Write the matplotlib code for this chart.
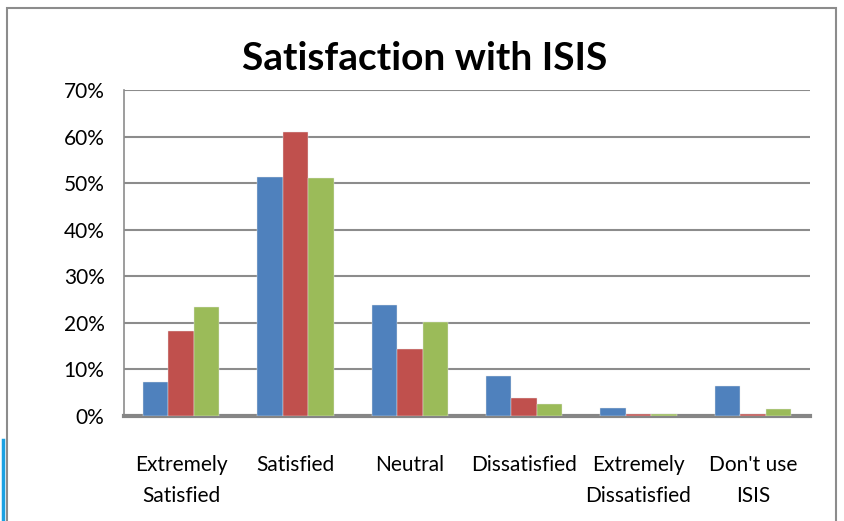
import matplotlib

matplotlib.use("Agg")

import numpy as np
import matplotlib.pyplot as plt
from matplotlib.patches import Rectangle
from matplotlib.lines import Line2D
from matplotlib.ticker import FuncFormatter, MultipleLocator

# -----------------------------
# Data
# -----------------------------
categories = ["Extremely\nSatisfied", "Satisfied", "Neutral", "Dissatisfied",
              "Extremely\nDissatisfied", "Don't use\nISIS"]
series_blue = [7.3, 51.3, 23.8, 8.6, 1.8, 6.4]
series_red = [18.3, 61.0, 14.4, 3.9, 0.5, 0.5]
series_green = [23.4, 51.2, 20.1, 2.6, 0.5, 1.4]

C_BLUE = "#4F81BD"
C_RED = "#C0504D"
C_GREEN = "#9BBB59"
C_GRID = "#8C8C8C"

FONT = ["Lato", "DejaVu Sans"]

fig = plt.figure(figsize=(8.45, 5.21), dpi=100)
fig.patch.set_facecolor("white")

# outer chart border (bottom edge is cut off in the reference)
fig.patches.append(Rectangle((7 / 845, -0.05), 829 / 845, 1.05 - 8 / 521,
                             transform=fig.transFigure, fill=False,
                             edgecolor="#8C8C8C", linewidth=1.5))
# blue strip at the lower left
fig.lines.append(Line2D([3 / 845, 3 / 845], [0, 1 - 440 / 521],
                        transform=fig.transFigure, color="#1BA1E2", linewidth=2.5))

ax = fig.add_axes([124 / 845, 1 - 416 / 521, 686 / 845, 326 / 521])

x = np.arange(len(categories))
w = 1 / 4.5
for i, (vals, col) in enumerate([(series_blue, C_BLUE), (series_red, C_RED), (series_green, C_GREEN)]):
    ax.bar(x + (i - 1) * w, vals, width=w, color=col, edgecolor="#E8E8E8",
           linewidth=0.3, zorder=3)

ax.set_xlim(-0.5, len(categories) - 0.5)
ax.set_ylim(0, 70)
ax.yaxis.set_major_locator(MultipleLocator(10))
ax.yaxis.set_major_formatter(FuncFormatter(lambda v, p: f"{v:.0f}%"))
ax.grid(axis="y", color=C_GRID, linewidth=1.5, zorder=0)
ax.set_axisbelow(True)

for s in ["top", "right"]:
    ax.spines[s].set_visible(False)
ax.spines["left"].set_color(C_GRID)
ax.spines["left"].set_linewidth(1.2)
ax.spines["bottom"].set_color("#868686")
ax.spines["bottom"].set_linewidth(3)

ax.set_xticks(x)
ax.set_xticklabels(categories, fontsize=15, family=FONT, linespacing=1.7, va="top")
ax.tick_params(axis="x", length=0, pad=28)
ax.tick_params(axis="y", length=0, pad=14)
for lbl in ax.get_yticklabels():
    lbl.set_fontsize(15)
    lbl.set_family(FONT)

fig.text(0.503, 1 - 58 / 521, "Satisfaction with ISIS", ha="center", va="center",
         fontsize=28, fontweight="bold", family=FONT)

plt.savefig("out.png", dpi=100)
